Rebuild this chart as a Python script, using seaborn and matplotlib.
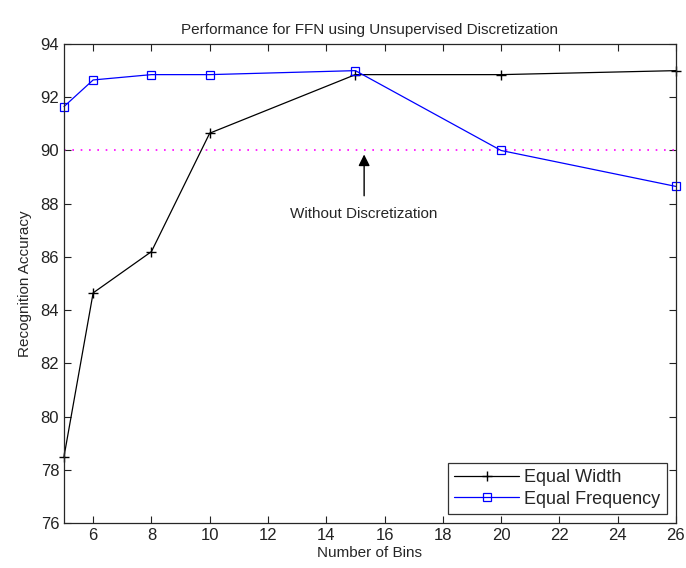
import numpy as np
import pandas as pd
import matplotlib
matplotlib.use('Agg')
import matplotlib.pyplot as plt
import seaborn as sns

# ─── Data ─────────────────────────────────────────────────────────────────────
bins            = [5, 6, 8, 10, 15, 20, 26]
equal_width     = [78.5, 84.65, 86.2, 90.65, 92.85, 92.85, 93.0]
equal_frequency = [91.65, 92.65, 92.85, 92.85, 93.0, 90.0, 88.65]
baseline        = 90.0

x_ticks = list(range(6, 27, 2))
y_ticks = list(range(76, 95, 2))

# ─── Style ────────────────────────────────────────────────────────────────────
sns.set_style('ticks')
plt.rcParams['font.family'] = ['Liberation Sans', 'DejaVu Sans']
plt.rcParams['xtick.direction'] = 'in'
plt.rcParams['ytick.direction'] = 'in'

fig = plt.figure(figsize=(6.86, 5.68), dpi=100)
ax = fig.add_axes([0.0933, 0.079, 0.892, 0.8435])

df = pd.DataFrame({'bins': bins, 'Equal Width': equal_width,
                   'Equal Frequency': equal_frequency})

sns.lineplot(data=df, x='bins', y='Equal Width', ax=ax, color='black',
             linewidth=0.9, marker='+', markersize=7, markeredgewidth=1.0,
             markeredgecolor='black', label='Equal Width', clip_on=False)
sns.lineplot(data=df, x='bins', y='Equal Frequency', ax=ax, color='#0000ff',
             linewidth=0.9, marker='s', markersize=5.5, markerfacecolor='none',
             markeredgecolor='#0000ff', markeredgewidth=0.9,
             label='Equal Frequency', clip_on=False)

ax.axhline(baseline, color='#ff00ff', linestyle=(0, (1, 4)), linewidth=1.2, zorder=1)

ax.annotate('Without Discretization', xy=(15.3, 89.85), xytext=(15.3, 87.6),
            ha='center', va='center', fontsize=11,
            arrowprops=dict(arrowstyle='-|>', color='black', lw=1.0,
                            mutation_scale=17, shrinkA=6, shrinkB=0))

ax.set_xlim(5, 26)
ax.set_ylim(76, 94)
ax.set_xticks(x_ticks)
ax.set_yticks(y_ticks)
ax.tick_params(labelsize=12, length=5, width=0.8, top=True, right=True,
               colors='#222222')
for s in ax.spines.values():
    s.set_linewidth(0.9)
    s.set_visible(True)

ax.set_title('Performance for FFN using Unsupervised Discretization', fontsize=11, pad=7)
ax.set_xlabel('Number of Bins', fontsize=11, labelpad=2)
ax.set_ylabel('Recognition Accuracy', fontsize=11, labelpad=6)

leg = ax.legend(loc='lower right', fontsize=13, frameon=True, fancybox=False,
                edgecolor='black', borderaxespad=0.5, handlelength=3.6,
                borderpad=0.35, labelspacing=0.25, handletextpad=0.3)
leg.get_frame().set_linewidth(0.9)

fig.savefig('out.png', dpi=100)
